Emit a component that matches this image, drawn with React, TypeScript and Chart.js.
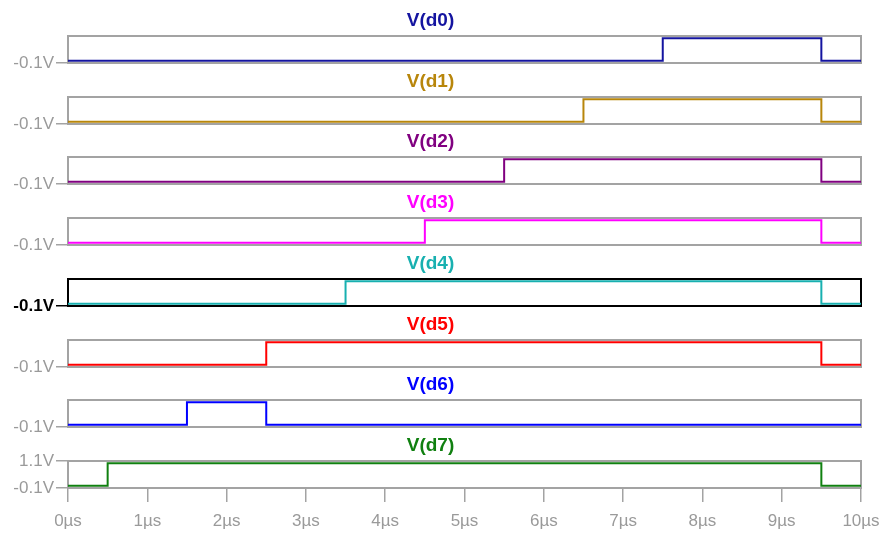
import React, { useEffect, useRef } from "react";
import { Chart, registerables } from "chart.js";

Chart.register(...registerables);

// Digital traces: sample times (µs) and logic levels (V) at each edge.
const traceNames = ["V(d0)", "V(d1)", "V(d2)", "V(d3)", "V(d4)", "V(d5)", "V(d6)", "V(d7)"];

const d0Time = [0, 7.5, 9.5, 10];
const d0Level = [0, 1, 0, 0];
const d1Time = [0, 6.5, 9.5, 10];
const d1Level = [0, 1, 0, 0];
const d2Time = [0, 5.5, 9.5, 10];
const d2Level = [0, 1, 0, 0];
const d3Time = [0, 4.5, 9.5, 10];
const d3Level = [0, 1, 0, 0];
const d4Time = [0, 3.5, 9.5, 10];
const d4Level = [0, 1, 0, 0];
const d5Time = [0, 2.5, 9.5, 10];
const d5Level = [0, 1, 0, 0];
const d6Time = [0, 1.5, 2.5, 10];
const d6Level = [0, 1, 0, 0];
const d7Time = [0, 0.5, 9.5, 10];
const d7Level = [0, 1, 0, 0];

const traceTimes = [d0Time, d1Time, d2Time, d3Time, d4Time, d5Time, d6Time, d7Time];
const traceLevels = [d0Level, d1Level, d2Level, d3Level, d4Level, d5Level, d6Level, d7Level];

const traceColors = ["#1414a0", "#b8860b", "#800080", "#ff00ff", "#18b0b0", "#ff0000", "#0000ff", "#108010"];

// Axis ranges and tick values
const timeMin = 0;
const timeMax = 10;
const timeStep = 1;
const voltMin = -0.1;
const voltMax = 1.1;
const lowerVoltTick = [-0.1];
const bothVoltTicks = [-0.1, 1.1];

// Layout
const WIDTH = 884;
const HEIGHT = 534;
const PLOT_LEFT = 68;
const PLOT_RIGHT = 861;
const FIRST_BOX_TOP = 35;
const PANEL_STEP = 60.7;
const BOX_H = 27;
const TITLE_BLOCK = 28;
const BELOW_BOX = 14;
const ACTIVE_PANEL = 4;

const FONT = '"Liberation Sans", Arial, sans-serif';
const FRAME_GRAY = "#a3a3a3";
const LABEL_GRAY = "#9a9a9a";
const TITLE_SIZE = 19;

const framePlugin = {
  id: "panelFrame",
  beforeDatasetsDraw(chart: any, _args: any, opts: any) {
    const { ctx, chartArea } = chart;
    ctx.save();
    ctx.strokeStyle = opts.color || FRAME_GRAY;
    ctx.lineWidth = 2;
    ctx.strokeRect(
      chartArea.left,
      chartArea.top,
      chartArea.right - chartArea.left,
      chartArea.bottom - chartArea.top
    );
    ctx.restore();
  },
};

function panelGeometry(i: number) {
  const boxTop = Math.round(FIRST_BOX_TOP + PANEL_STEP * i);
  const top = boxTop - TITLE_BLOCK + 1;
  const last = i === traceNames.length - 1;
  const height = last ? HEIGHT - top : TITLE_BLOCK + BOX_H + BELOW_BOX;
  return { top, height, last };
}

export default function App() {
  const refs = useRef<(HTMLCanvasElement | null)[]>([]);

  useEffect(() => {
    const charts: Chart[] = [];
    traceNames.forEach((name, i) => {
      const canvas = refs.current[i];
      if (!canvas) return;
      const { height, last } = panelGeometry(i);
      const active = i === ACTIVE_PANEL;
      const frameColor = active ? "#000000" : FRAME_GRAY;
      const labelColor = active ? "#000000" : LABEL_GRAY;
      const points = traceTimes[i].map((t, k) => ({ x: t, y: traceLevels[i][k] }));

      const chart = new Chart(canvas, {
        type: "line",
        data: {
          datasets: [
            {
              label: name,
              data: points,
              borderColor: traceColors[i],
              borderWidth: 2,
              pointRadius: 0,
              stepped: true,
              fill: false,
            },
          ],
        },
        plugins: [framePlugin],
        options: {
          animation: false,
          responsive: false,
          devicePixelRatio: 1,
          layout: { padding: { left: 0, right: WIDTH - PLOT_RIGHT, top: 0, bottom: last ? 0 : BELOW_BOX } },
          plugins: {
            legend: { display: false },
            tooltip: { enabled: false },
            title: {
              display: true,
              text: name,
              color: traceColors[i],
              font: { family: FONT, size: TITLE_SIZE, weight: "bold", lineHeight: 1.2 },
              padding: { top: 1, bottom: TITLE_BLOCK - 1 - TITLE_SIZE * 1.2 },
            },
            panelFrame: { color: frameColor },
          } as any,
          scales: {
            x: {
              type: "linear",
              min: timeMin,
              max: timeMax,
              display: last,
              border: { display: false },
              grid: {
                drawOnChartArea: false,
                drawTicks: true,
                tickLength: 14,
                color: FRAME_GRAY,
                lineWidth: 1.5,
              },
              ticks: {
                stepSize: timeStep,
                padding: 9,
                color: LABEL_GRAY,
                font: { family: FONT, size: 17 },
                maxRotation: 0,
                autoSkip: false,
                callback: (v: any) => `${v}µs`,
              },
              afterFit: (scale: any) => {
                if (last) scale.height = height - TITLE_BLOCK - BOX_H;
                // the outer layout padding already leaves room for the end labels
                scale.paddingLeft = 0;
                scale.paddingRight = 0;
              },
            },
            y: {
              type: "linear",
              min: voltMin,
              max: voltMax,
              border: { display: false },
              grid: {
                drawOnChartArea: false,
                drawTicks: true,
                tickLength: 12,
                color: frameColor,
                lineWidth: 1.5,
              },
              ticks: {
                padding: 2,
                autoSkip: false,
                color: labelColor,
                font: { family: FONT, size: 17, weight: active ? "bold" : "normal" },
                callback: (v: any) => `${Number(v).toFixed(1)}V`,
              },
              afterBuildTicks: (scale: any) => {
                const vals = last ? bothVoltTicks : lowerVoltTick;
                scale.ticks = vals.map((value) => ({ value }));
              },
              afterFit: (scale: any) => {
                scale.width = PLOT_LEFT;
              },
            },
          },
        } as any,
      });
      charts.push(chart);
    });
    return () => charts.forEach((c) => c.destroy());
  }, []);

  return (
    <div style={{ position: "absolute", left: 0, top: 0, width: WIDTH, height: HEIGHT, background: "#ffffff" }}>
      {traceNames.map((name, i) => {
        const { top, height } = panelGeometry(i);
        return (
          <canvas
            key={name}
            ref={(el) => {
              refs.current[i] = el;
            }}
            width={WIDTH}
            height={height}
            style={{ position: "absolute", left: 0, top, width: WIDTH, height }}
          />
        );
      })}
    </div>
  );
}
